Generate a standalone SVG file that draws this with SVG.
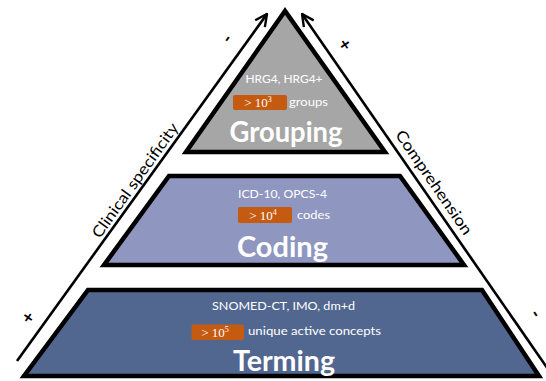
<svg xmlns="http://www.w3.org/2000/svg" width="546" height="381" viewBox="0 0 546 381">
<style>
.tier{stroke:#000;stroke-width:4.5;stroke-linejoin:miter}
.sm{font-family:Lato,"Open Sans",sans-serif;font-size:12px;fill:#fff;text-anchor:middle}
.big{font-family:Lato,"Open Sans",sans-serif;font-size:28px;font-weight:bold;fill:#fff;text-anchor:middle}
.box{fill:#c55a11}
.num{font-family:"Liberation Serif",serif;font-size:13px;fill:#fff;text-anchor:middle}
.lbl{font-family:Lato,"Open Sans",sans-serif;font-size:15.5px;fill:#000;text-anchor:middle}
.pm{font-family:Lato,"Open Sans",sans-serif;font-size:18px;font-weight:bold;fill:#000;text-anchor:middle}
.axis{stroke:#000;stroke-width:2.6;fill:none}
</style>
<defs>
<marker id="arr" viewBox="0 0 12 12" refX="11" refY="6" markerWidth="5.5" markerHeight="5.5" orient="auto" markerUnits="strokeWidth">
<path d="M1,1 L11,6 L1,11" fill="none" stroke="#000" stroke-width="2"/>
</marker>
</defs>
<rect width="546" height="381" fill="#fff"/>
<g id="connectors">
<path class="axis" d="M17,361 L267,14" marker-end="url(#arr)"/>
<path class="axis" d="M550,372 L302,14" marker-end="url(#arr)"/>
</g>
<g id="axis-left">
<text class="lbl" transform="translate(139.5,183.5) rotate(-54.5)" textLength="137" lengthAdjust="spacingAndGlyphs">Clinical specificity</text>
<text class="pm" transform="translate(232,42) rotate(-54.5)">-</text>
<text class="pm" transform="translate(33,321) rotate(-54.5)">+</text>
</g>
<g id="axis-right">
<text class="lbl" transform="translate(429.5,185.5) rotate(55.5)" textLength="123" lengthAdjust="spacingAndGlyphs">Comprehension</text>
<text class="pm" transform="translate(340,48) rotate(55.5)">+</text>
<text class="pm" transform="translate(531,317) rotate(55.5)">-</text>
</g>
<g id="grouping">
<polygon class="tier" fill="#a6a6a6" points="285,11 186,152 385,152"/>
<text class="sm" x="284" y="83" textLength="77" lengthAdjust="spacingAndGlyphs">HRG4, HRG4+</text>
<rect class="box" x="233" y="95" width="54" height="15" rx="2"/>
<text class="num" x="258" y="107">&gt; 10<tspan dy="-5" font-size="8">3</tspan></text>
<text class="sm" x="308.5" y="106" textLength="39" lengthAdjust="spacingAndGlyphs">groups</text>
<text class="big" x="286" y="142" textLength="113" lengthAdjust="spacingAndGlyphs">Grouping</text>
</g>
<g id="coding">
<polygon class="tier" fill="#8f96bf" points="169,176 400,176 464,265 104,265"/>
<text class="sm" x="282.5" y="198" textLength="89" lengthAdjust="spacingAndGlyphs">ICD-10, OPCS-4</text>
<rect class="box" x="238" y="207" width="54" height="16" rx="2"/>
<text class="num" x="263" y="219.5">&gt; 10<tspan dy="-5" font-size="8">4</tspan></text>
<text class="sm" x="313.5" y="219" textLength="33" lengthAdjust="spacingAndGlyphs">codes</text>
<text class="big" x="282.5" y="257" textLength="91" lengthAdjust="spacingAndGlyphs">Coding</text>
</g>
<g id="terming">
<polygon class="tier" fill="#52678f" points="88,290 482,290 539,376 24,376"/>
<text class="sm" x="283.5" y="310" textLength="143" lengthAdjust="spacingAndGlyphs">SNOMED-CT, IMO, dm+d</text>
<rect class="box" x="191.5" y="324.5" width="52.5" height="15.5" rx="2"/>
<text class="num" x="215" y="337">&gt; 10<tspan dy="-5" font-size="8">5</tspan></text>
<text class="sm" x="314.5" y="335" textLength="133" lengthAdjust="spacingAndGlyphs">unique active concepts</text>
<text class="big" x="284" y="371" textLength="102" lengthAdjust="spacingAndGlyphs">Terming</text>
</g>
</svg>
